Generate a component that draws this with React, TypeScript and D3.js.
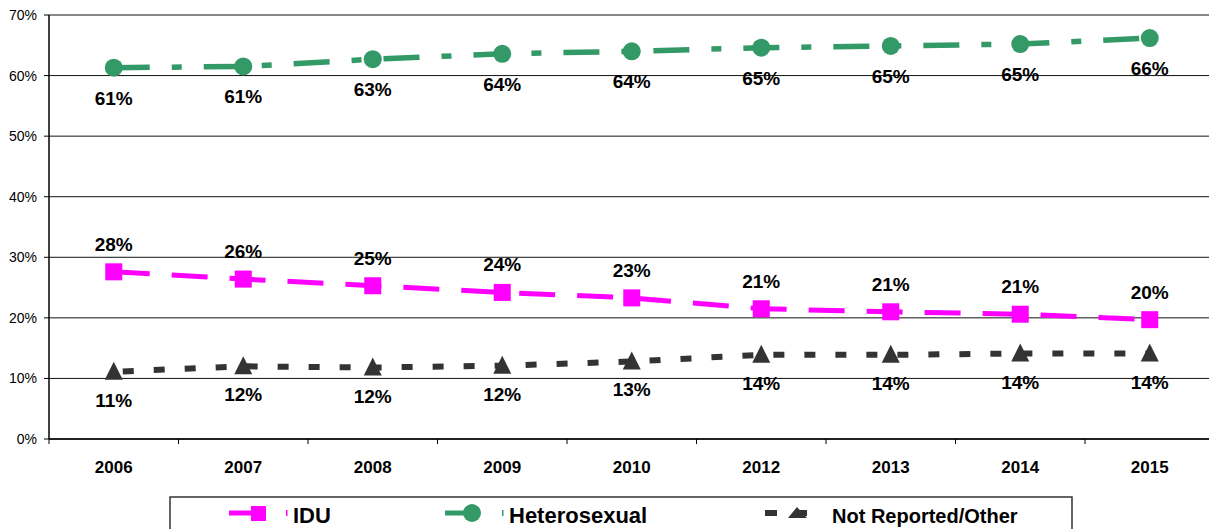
import React from "react";
import * as d3 from "d3";

const categories = ["2006", "2007", "2008", "2009", "2010", "2012", "2013", "2014", "2015"];
const idu = [27.6, 26.4, 25.3, 24.2, 23.3, 21.5, 21.0, 20.6, 19.7];
const hetero = [61.3, 61.5, 62.7, 63.6, 64.0, 64.6, 64.9, 65.2, 66.2];
const other = [11.1, 12.0, 11.8, 12.1, 12.8, 13.9, 13.9, 14.1, 14.1];
const iduLabels = ["28%", "26%", "25%", "24%", "23%", "21%", "21%", "21%", "20%"];
const heteroLabels = ["61%", "61%", "63%", "64%", "64%", "65%", "65%", "65%", "66%"];
const otherLabels = ["11%", "12%", "12%", "12%", "13%", "14%", "14%", "14%", "14%"];
const yTicks = [0, 10, 20, 30, 40, 50, 60, 70];

const W = 1209;
const H = 529;
const left = 49;
const right = 1214.5;
const top = 15;
const bottom = 439;

export default function App() {
  const x = d3.scaleBand<string>().domain(categories).range([left, right]).padding(0);
  const y = d3.scaleLinear().domain([0, 70]).range([bottom, top]);
  const cx = (c: string) => (x(c) as number) + x.bandwidth() / 2;
  const line = d3.line<number>().x((_, i) => cx(categories[i])).y((v) => y(v));

  const GREEN = "#339966";
  const MAG = "#FF00FF";
  const DARK = "#333333";
  const font = "Arial, 'Liberation Sans', sans-serif";

  const square = (px: number, py: number, key: string, s = 17) => (
    <rect key={key} x={px - s / 2} y={py - s / 2} width={s} height={s} fill={MAG} />
  );
  const tri = (px: number, py: number, key: string, s = 18) => (
    <path key={key} d={`M${px},${py - s / 2 - 1}L${px + s / 2},${py + s / 2 - 1}L${px - s / 2},${py + s / 2 - 1}Z`} fill={DARK} />
  );

  return (
    <svg width={W} height={H} style={{ position: "absolute", left: 0, top: 0, background: "#fff" }}>
      {/* gridlines */}
      {yTicks.map((t) => (
        <line key={t} x1={left} x2={W} y1={y(t)} y2={y(t)} stroke={t === 70 ? "#888" : "#111"} strokeWidth={t === 70 ? 2 : 1} />
      ))}
      {/* axes */}
      <line x1={left} x2={left} y1={top} y2={bottom} stroke="#000" strokeWidth={1.5} />
      <line x1={left} x2={W} y1={bottom} y2={bottom} stroke="#000" strokeWidth={1.5} />
      {yTicks.map((t) => (
        <g key={"yt" + t}>
          <line x1={left - 5} x2={left} y1={y(t)} y2={y(t)} stroke="#000" />
          <text x={37} y={y(t) + 5} textAnchor="end" fontFamily={font} fontSize={14} fill="#000">{t}%</text>
        </g>
      ))}
      {categories.map((c) => (
        <g key={"xt" + c}>
          <line x1={x(c) as number} x2={x(c) as number} y1={bottom} y2={bottom + 5} stroke="#000" />
          <text x={cx(c)} y={473} textAnchor="middle" fontFamily={font} fontSize={17} fontWeight="bold" fill="#000">{c}</text>
        </g>
      ))}
      {/* lines */}
      <path d={line(hetero) || ""} fill="none" stroke={GREEN} strokeWidth={5.5} strokeDasharray="36 22 10 22" />
      <path d={line(idu) || ""} fill="none" stroke={MAG} strokeWidth={5} strokeDasharray="36 22" />
      <path d={line(other) || ""} fill="none" stroke={DARK} strokeWidth={6} strokeDasharray="11 20" strokeDashoffset={-9} />
      {/* markers */}
      {hetero.map((v, i) => (
        <circle key={"hc" + i} cx={cx(categories[i])} cy={y(v)} r={9} fill={GREEN} />
      ))}
      {idu.map((v, i) => square(cx(categories[i]), y(v), "is" + i))}
      {other.map((v, i) => tri(cx(categories[i]), y(v), "ot" + i))}
      {/* labels */}
      {hetero.map((v, i) => (
        <text key={"hl" + i} x={cx(categories[i])} y={y(v) + 37} textAnchor="middle" fontFamily={font} fontSize={19} fontWeight="bold" fill="#000">{heteroLabels[i]}</text>
      ))}
      {idu.map((v, i) => (
        <text key={"il" + i} x={cx(categories[i])} y={y(v) - 21} textAnchor="middle" fontFamily={font} fontSize={19} fontWeight="bold" fill="#000">{iduLabels[i]}</text>
      ))}
      {other.map((v, i) => (
        <text key={"ol" + i} x={cx(categories[i])} y={y(v) + 35} textAnchor="middle" fontFamily={font} fontSize={19} fontWeight="bold" fill="#000">{otherLabels[i]}</text>
      ))}
      {/* legend */}
      <rect x={170} y={497} width={902} height={40} fill="#fff" stroke="#333" strokeWidth={1.5} />
      <line x1={229} x2={253} y1={513} y2={513} stroke={MAG} strokeWidth={5} />
      <rect x={251} y={506} width={15} height={15} fill={MAG} />
      <rect x={286} y={510} width={1.5} height={6} fill={MAG} />
      <text x={293} y={523} fontFamily={font} fontSize={22} fontWeight="bold" fill="#000">IDU</text>
      <line x1={445} x2={466} y1={513} y2={513} stroke={GREEN} strokeWidth={5} />
      <circle cx={472} cy={513} r={9} fill={GREEN} />
      <rect x={502} y={510} width={1.5} height={6} fill={GREEN} />
      <text x={509} y={523} fontFamily={font} fontSize={22} fontWeight="bold" fill="#000">Heterosexual</text>
      <rect x={765} y={510} width={12} height={6} fill={DARK} />
      <path d="M797,507L807,518L788,518Z" fill={DARK} />
      <rect x={797} y={510} width={10} height={6} fill={DARK} />
      <text x={832} y={523} fontFamily={font} fontSize={20} fontWeight="bold" fill="#000">Not Reported/Other</text>
    </svg>
  );
}
